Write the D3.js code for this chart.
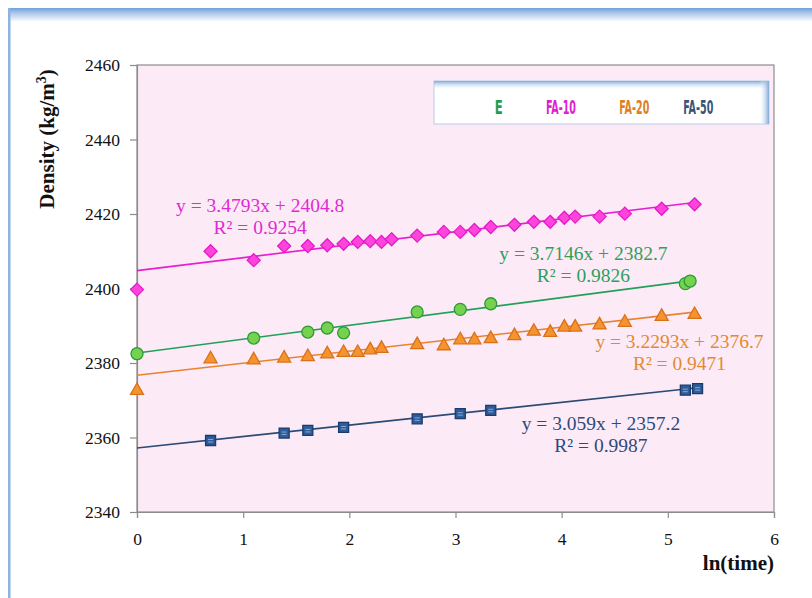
<!DOCTYPE html>
<html>
<head>
<meta charset="utf-8">
<script src="https://cdn.jsdelivr.net/npm/d3@7"></script>
<style>
  html, body { margin: 0; padding: 0; background: #fff; }
  svg { display: block; }
</style>
</head>
<body>
<svg id="chart" width="812" height="598"></svg>
<script>
// ===============================
//   Density vs ln(time) — linear trends per mix
// ===============================

// ---- data ----
const seriesNames = ["E", "FA-10", "FA-20", "FA-50"];

const xE = [0, 1.099, 1.609, 1.792, 1.946, 2.639, 3.045, 3.332, 5.165, 5.21];
const yE = [2382.5, 2386.7, 2388.3, 2389.4, 2388.1, 2393.7, 2394.4, 2395.9, 2401.3, 2402.0];

const xFA10 = [0, 0.693, 1.099, 1.386, 1.609, 1.792, 1.946, 2.079, 2.197, 2.303, 2.398, 2.639,
  2.890, 3.045, 3.178, 3.332, 3.555, 3.738, 3.892, 4.025, 4.127, 4.357, 4.595, 4.942, 5.252];
const yFA10 = [2399.7, 2410.0, 2407.6, 2411.4, 2411.4, 2411.6, 2412.0, 2412.5, 2412.7, 2412.5, 2413.2, 2414.2,
  2415.2, 2415.2, 2415.7, 2416.5, 2417.1, 2417.9, 2417.9, 2419.0, 2419.3, 2419.3, 2420.1, 2421.4, 2422.6];

const xFA20 = [0, 0.693, 1.099, 1.386, 1.609, 1.792, 1.946, 2.079, 2.197, 2.303, 2.639,
  2.890, 3.045, 3.178, 3.332, 3.555, 3.738, 3.892, 4.025, 4.127, 4.357, 4.595, 4.942, 5.252];
const yFA20 = [2372.9, 2381.4, 2381.1, 2381.6, 2382.0, 2382.7, 2383.1, 2383.1, 2383.8, 2384.2, 2385.2,
  2384.9, 2386.5, 2386.5, 2386.8, 2387.6, 2388.8, 2388.5, 2389.9, 2389.9, 2390.5, 2391.2, 2392.8, 2393.3];

const xFA50 = [0.693, 1.386, 1.609, 1.946, 2.639, 3.045, 3.332, 5.165, 5.28];
const yFA50 = [2359.2, 2361.2, 2361.9, 2362.7, 2365.0, 2366.4, 2367.3, 2372.7, 2373.1];

// trendline fits as printed on the chart
const slopes = [3.7146, 3.4793, 3.2293, 3.059];
const intercepts = [2382.7, 2404.8, 2376.7, 2357.2];
const rSquared = ["0.9826", "0.9254", "0.9471", "0.9987"];

const xTicks = [0, 1, 2, 3, 4, 5, 6];
const yTicks = [2340, 2360, 2380, 2400, 2420, 2440, 2460];

// ---- look ----
const markerFill = ["#74d24e", "#ff44dc", "#f5932f", "#2e5c9a"];
const markerStroke = ["#2c9a38", "#e21cc8", "#d9711a", "#1b3b6c"];
const lineColor = ["#20a05a", "#e81ed4", "#e8832c", "#2c4a75"];
const labelColor = ["#2f9f5c", "#e02ad4", "#e28a32", "#2f4a7a"];
const legendColor = ["#1f9e50", "#e020d0", "#e0801e", "#3a5478"];
const shapes = ["circle", "diamond", "triangle", "square"];

// equation label anchors (data units, first line baseline)
const labelPos = [[4.205, 2407.7], [1.16, 2420.6], [5.11, 2384.1], [4.37, 2361.9]];

const svg = d3.select("#chart");
const margin = { left: 137, top: 65, right: 38, bottom: 86 };
const W = 812, H = 598;
const serif = "'Liberation Serif', 'Times New Roman', serif";

const x = d3.scaleLinear().domain([0, 6]).range([margin.left, W - margin.right]);
const y = d3.scaleLinear().domain([2340, 2460]).range([H - margin.bottom, margin.top]);

const defs = svg.append("defs");

// outer frame: light blue bar on top, thin line at left
const gTop = defs.append("linearGradient").attr("id", "frameTop")
  .attr("x1", 0).attr("y1", 0).attr("x2", 0).attr("y2", 1);
gTop.append("stop").attr("offset", "0%").attr("stop-color", "#6f9fd8");
gTop.append("stop").attr("offset", "35%").attr("stop-color", "#a9c6ea");
gTop.append("stop").attr("offset", "100%").attr("stop-color", "#ffffff");

svg.append("rect").attr("x", 8).attr("y", 8).attr("width", W - 8).attr("height", 14)
  .attr("fill", "url(#frameTop)");
svg.append("rect").attr("x", 8).attr("y", 8).attr("width", 2.5).attr("height", H - 8)
  .attr("fill", "#8fb3e0");

// plot background
svg.append("rect")
  .attr("x", x(0)).attr("y", y(2460))
  .attr("width", x(6) - x(0)).attr("height", y(2340) - y(2460))
  .attr("fill", "#fcebf6")
  .attr("stroke", "#8c8c8c").attr("stroke-width", 1.2);

// axes
const yAxis = svg.append("g")
  .attr("transform", `translate(${x(0)},0)`)
  .call(d3.axisLeft(y).tickValues(yTicks).tickSize(7).tickPadding(10).tickFormat(d3.format("d")));
const xAxis = svg.append("g")
  .attr("transform", `translate(0,${y(2340)})`)
  .call(d3.axisBottom(x).tickValues(xTicks).tickSize(6).tickPadding(15).tickFormat(d3.format("d")));

[yAxis, xAxis].forEach(a => {
  a.attr("font-family", serif).attr("font-size", 17.5);
  a.select(".domain").attr("stroke", "#8c8c8c").attr("stroke-width", 1.2);
  a.selectAll(".tick line").attr("stroke", "#8c8c8c").attr("stroke-width", 1.2);
  a.selectAll(".tick text").attr("fill", "#111");
});

// axis titles
const yTitle = svg.append("text")
  .attr("transform", `translate(54,${(y(2460) + 213) / 2}) rotate(-90)`)
  .attr("text-anchor", "middle")
  .attr("font-family", serif)
  .attr("font-size", 21)
  .attr("font-weight", "bold")
  .attr("fill", "#111");
yTitle.append("tspan").text("Density (kg/m");
yTitle.append("tspan").attr("dy", -8).attr("font-size", 14).text("3");
yTitle.append("tspan").attr("dy", 8).text(")");

svg.append("text")
  .attr("x", x(6)).attr("y", 570)
  .attr("text-anchor", "end")
  .attr("font-family", serif)
  .attr("font-size", 21)
  .attr("font-weight", "bold")
  .attr("fill", "#111")
  .text("ln(time)");

// legend box
const lg = { x: 434, y: 81, w: 335, h: 43 };
const gLegTop = defs.append("linearGradient").attr("id", "legTop")
  .attr("x1", 0).attr("y1", 0).attr("x2", 0).attr("y2", 1);
gLegTop.append("stop").attr("offset", "0%").attr("stop-color", "#7fa9dc");
gLegTop.append("stop").attr("offset", "100%").attr("stop-color", "#ffffff").attr("stop-opacity", 0);
const gLegRight = defs.append("linearGradient").attr("id", "legRight")
  .attr("x1", 1).attr("y1", 0).attr("x2", 0).attr("y2", 0);
gLegRight.append("stop").attr("offset", "0%").attr("stop-color", "#7fa9dc");
gLegRight.append("stop").attr("offset", "100%").attr("stop-color", "#ffffff").attr("stop-opacity", 0);

svg.append("rect").attr("x", lg.x).attr("y", lg.y).attr("width", lg.w).attr("height", lg.h)
  .attr("fill", "#fff").attr("stroke", "#b7cbe4").attr("stroke-width", 1);
svg.append("rect").attr("x", lg.x).attr("y", lg.y).attr("width", lg.w).attr("height", 9)
  .attr("fill", "url(#legTop)");
svg.append("rect").attr("x", lg.x + lg.w - 10).attr("y", lg.y).attr("width", 10).attr("height", lg.h)
  .attr("fill", "url(#legRight)");

const legendX = [498.7, 561, 634.3, 698.3];
const legendW = [8, 30, 30, 30];
seriesNames.forEach((name, i) => {
  svg.append("text")
    .attr("x", legendX[i] - legendW[i] / 2).attr("y", 113.5)
    .attr("textLength", legendW[i]).attr("lengthAdjust", "spacingAndGlyphs")
    .attr("font-family", "'Liberation Sans Narrow', 'DejaVu Sans Condensed', sans-serif")
    .attr("font-size", 20)
    .attr("font-weight", "bold")
    .attr("fill", legendColor[i])
    .text(name);
});

// series
const xs = [xE, xFA10, xFA20, xFA50];
const ys = [yE, yFA10, yFA20, yFA50];

const plot = svg.append("g");

// trendlines
xs.forEach((xv, i) => {
  const x1 = d3.max(xv);
  const line = d3.line().x(d => x(d)).y(d => y(slopes[i] * d + intercepts[i]));
  plot.append("path")
    .attr("d", line([0, x1]))
    .attr("fill", "none")
    .attr("stroke", lineColor[i])
    .attr("stroke-width", 1.6);
});

function markerPath(shape) {
  if (shape === "diamond") return "M0,-6.5L6.5,0L0,6.5L-6.5,0Z";
  if (shape === "triangle") return "M0,-6.5L6.5,5L-6.5,5Z";
  if (shape === "square") return "M-5,-5H5V5H-5Z";
  return d3.symbol().type(d3.symbolCircle).size(Math.PI * 36)();
}

xs.forEach((xv, i) => {
  const pts = xv.map((d, j) => [d, ys[i][j]]);
  const g = plot.append("g");
  const m = g.selectAll("g.pt").data(pts).join("g")
    .attr("class", "pt")
    .attr("transform", d => `translate(${x(d[0])},${y(d[1])})`);
  m.append("path")
    .attr("d", markerPath(shapes[i]))
    .attr("fill", markerFill[i])
    .attr("stroke", markerStroke[i])
    .attr("stroke-width", 1.3);
  if (shapes[i] === "square") {
    m.append("path").attr("d", "M-2.5,-1H2.5M-2.5,1.5H2.5")
      .attr("stroke", "#8fb0dc").attr("stroke-width", 0.9);
  }
});

// equation labels
seriesNames.forEach((name, i) => {
  const t = svg.append("text")
    .attr("text-anchor", "middle")
    .attr("font-family", serif)
    .attr("font-size", 19.5)
    .attr("fill", labelColor[i]);
  t.append("tspan").attr("x", x(labelPos[i][0])).attr("y", y(labelPos[i][1]))
    .text(`y = ${slopes[i]}x + ${intercepts[i]}`);
  t.append("tspan").attr("x", x(labelPos[i][0])).attr("dy", 22)
    .text(`R² = ${rSquared[i]}`);
});
</script>
</body>
</html>
